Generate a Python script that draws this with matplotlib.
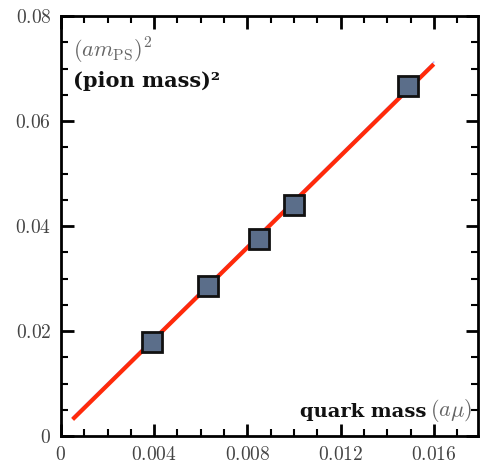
import matplotlib
matplotlib.use("Agg")
import matplotlib.pyplot as plt
from matplotlib.ticker import MultipleLocator, FuncFormatter

plt.rcParams['mathtext.fontset'] = 'cm'
plt.rcParams['font.family'] = 'serif'

# data
quark_mass = [0.0039, 0.0063, 0.0085, 0.0100, 0.0149]
pion_mass_sq = [0.0180, 0.0285, 0.0375, 0.0440, 0.0667]

# linear fit line
fit_x = [0.0005, 0.0160]
fit_slope = 4.365
fit_icpt = 0.0010
fit_y = [fit_icpt + fit_slope * x for x in fit_x]

fig = plt.figure(figsize=(4.8, 4.72), dpi=100)
ax = fig.add_axes([0.127, 0.076, 0.869, 0.890])

ax.plot(fit_x, [y + 0.0004 for y in fit_y], color='#8080ff', lw=1, alpha=0.6, zorder=1)
ax.plot(fit_x, fit_y, color='#ff2a0a', lw=3, zorder=2, solid_capstyle='butt')
ax.plot(quark_mass, pion_mass_sq, 's', ms=14, mfc='#5b6e8a', mec='#111111', mew=2, zorder=3)

ax.set_xlim(0, 0.0179)
ax.set_ylim(0, 0.08)

ax.xaxis.set_major_locator(MultipleLocator(0.004))
ax.xaxis.set_minor_locator(MultipleLocator(0.001))
ax.yaxis.set_major_locator(MultipleLocator(0.02))
ax.yaxis.set_minor_locator(MultipleLocator(0.005))

def fmt(v, pos):
    if abs(v) < 1e-12:
        return r'$0$'
    return r'$%g$' % round(v, 4)

ax.xaxis.set_major_formatter(FuncFormatter(fmt))
ax.yaxis.set_major_formatter(FuncFormatter(fmt))

ax.tick_params(which='both', direction='in', top=True, right=True,
               colors='black', labelcolor='#444444', labelsize=14)
ax.tick_params(which='major', length=9, width=2, pad=7)
ax.tick_params(which='minor', length=5, width=1.5)
for s in ax.spines.values():
    s.set_linewidth(2)

ax.text(0.029, 0.952, r'$(am_{\mathrm{PS}})^2$', transform=ax.transAxes,
        fontsize=16, color='#666666', va='top', ha='left')
ax.text(0.029, 0.868, '(pion mass)\u00b2', transform=ax.transAxes,
        fontsize=15, fontweight='bold', family='DejaVu Serif',
        color='#111111', va='top', ha='left')
ax.text(0.875, 0.036, 'quark mass', transform=ax.transAxes,
        fontsize=14, fontweight='bold', family='DejaVu Serif',
        color='#111111', va='bottom', ha='right')
ax.text(0.985, 0.030, r'$(a\mu)$', transform=ax.transAxes,
        fontsize=16, color='#666666', va='bottom', ha='right')

fig.savefig('out.png', dpi=100)
